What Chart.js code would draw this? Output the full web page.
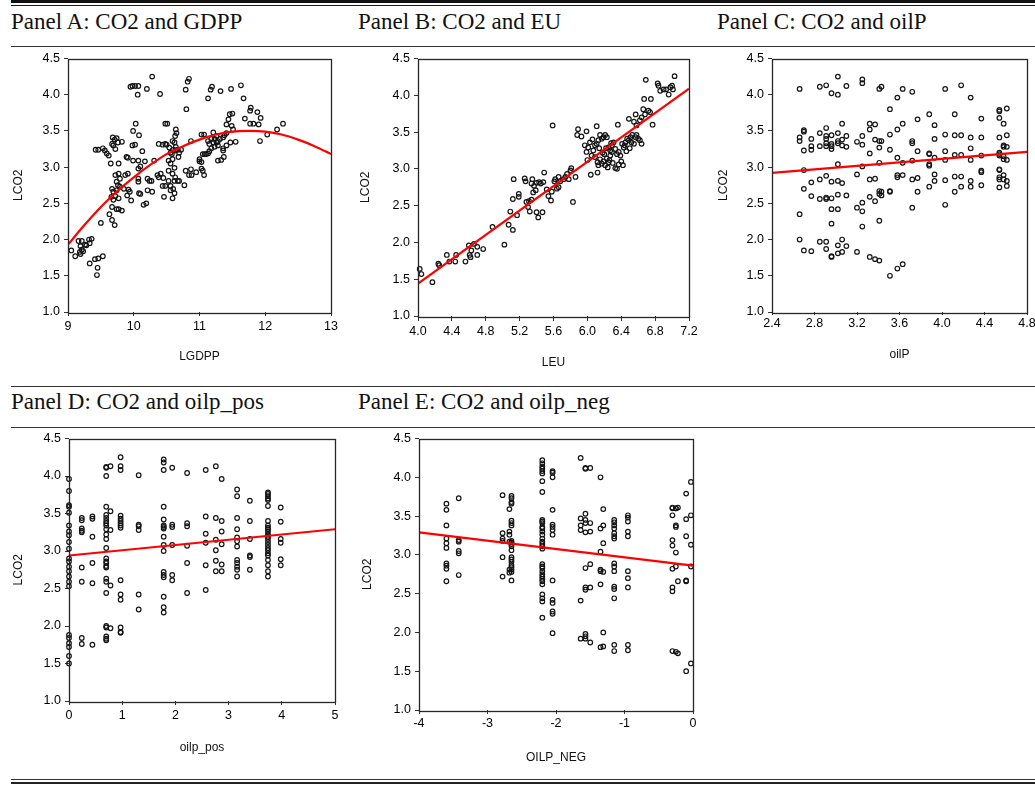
<!DOCTYPE html>
<html><head><meta charset="utf-8">
<script src="https://cdn.jsdelivr.net/npm/chart.js@4.4.1/dist/chart.umd.min.js"></script>
<style>
html,body{margin:0;padding:0;background:#fff;width:1035px;height:785px;overflow:hidden;position:relative}
.rule{position:absolute;left:11px;width:1024px;background:#1a1a1a}
.title{position:absolute;font-family:"Liberation Serif","Times New Roman",serif;font-size:23px;line-height:23px;color:#111;white-space:nowrap}
canvas{position:absolute}
</style></head><body>
<div class="rule" style="top:0;height:3px;background:#111"></div>
<div class="rule" style="top:5px;height:1px"></div>
<div class="rule" style="top:46px;height:1px;background:#333"></div>
<div class="rule" style="top:386px;height:1px;background:#333"></div>
<div class="rule" style="top:427px;height:1px;background:#333"></div>
<div class="rule" style="top:779px;height:1px;background:#333"></div>
<div class="rule" style="top:782px;height:2px;background:#222"></div>
<div class="title" style="left:11px;top:10px">Panel A: CO2 and GDPP</div>
<div class="title" style="left:358px;top:10px">Panel B: CO2 and EU</div>
<div class="title" style="left:717px;top:10px">Panel C: CO2 and oilP</div>
<div class="title" style="left:11px;top:390px">Panel D: CO2 and oilp_pos</div>
<div class="title" style="left:358px;top:390px">Panel E: CO2 and oilp_neg</div>
<canvas id="cA" width="345" height="330" style="left:0;top:47px"></canvas>
<canvas id="cB" width="355" height="335" style="left:350px;top:47px"></canvas>
<canvas id="cC" width="350" height="330" style="left:700px;top:47px"></canvas>
<canvas id="cD" width="350" height="345" style="left:0;top:427px"></canvas>
<canvas id="cE" width="360" height="350" style="left:350px;top:427px"></canvas>
<script>
// ---------- DATA ----------
const yTicks = [1.0,1.5,2.0,2.5,3.0,3.5,4.0,4.5];
const ticksA = [9,10,11,12,13];
const ticksB = [4.0,4.4,4.8,5.2,5.6,6.0,6.4,6.8,7.2];
const ticksC = [2.4,2.8,3.2,3.6,4.0,4.4,4.8];
const ticksD = [0,1,2,3,4,5];
const ticksE = [-4,-3,-2,-1,0];

// Panel A: LGDPP vs LCO2 points [x, y]
const pointsA = [
[10.28,4.25],[9.95,4.11],[9.98,4.12],[10.02,4.12],[10.07,4.12],[10.06,4.0],[10.2,4.08],[10.4,4.01],[10.79,4.07],[10.82,4.18],[10.84,4.22],[10.8,3.8],[11.13,3.95],[11.17,4.07],[11.19,4.11],[11.32,4.05],[11.48,4.08],[11.63,4.13],[11.67,3.95],[11.69,3.67],[11.77,3.78],[11.78,3.82],[11.88,3.76],[11.93,3.68],[11.77,3.6],[11.82,3.6],[11.9,3.59],[11.92,3.36],[12.03,3.45],[12.18,3.52],[12.27,3.6],
[9.42,3.24],[9.46,3.24],[9.53,3.26],[9.56,3.23],[9.59,3.19],[9.62,3.16],[9.65,3.05],[9.68,3.41],[9.71,3.38],[9.74,3.4],[9.76,3.34],[9.69,3.3],[9.72,3.25],[9.67,3.32],[9.77,3.05],[9.82,3.35],[9.89,3.14],[9.91,3.13],[9.99,3.5],[10.03,3.6],[9.98,3.3],[10.02,3.31],[10.08,3.44],[9.99,3.09],[10.07,3.09],[10.13,3.22],[10.17,3.08],
[9.72,2.89],[9.77,2.91],[9.79,2.84],[9.74,2.8],[9.76,2.75],[9.67,2.7],[9.69,2.66],[9.74,2.68],[9.79,2.73],[9.85,2.7],[9.92,2.69],[9.94,2.66],[9.9,2.61],[9.66,2.59],[9.72,2.6],[9.77,2.57],[9.69,2.55],[9.87,2.89],[9.91,2.91],[9.96,2.54],[9.67,2.45],[9.74,2.42],[9.77,2.42],[9.82,2.4],[9.63,2.35],[9.67,2.27],[9.71,2.2],[9.5,2.23],
[10.07,2.84],[10.07,2.8],[10.08,2.64],[10.1,2.63],[10.07,2.98],[10.1,3.01],[10.15,2.48],[10.19,2.5],[10.21,2.84],[10.24,2.81],[10.27,2.81],[10.21,2.68],[10.28,2.66],[10.31,3.09],[10.36,2.89],[10.38,2.86],[10.41,2.91],[10.45,2.85],[10.44,2.74],[10.38,3.32],[10.44,3.31],[10.48,3.32],[10.5,3.31],[10.48,3.6],[10.51,3.6],[10.48,2.74],[10.46,2.59],
[10.54,3.27],[10.56,3.2],[10.58,3.18],[10.6,3.24],[10.63,3.23],[10.64,3.28],[10.59,3.36],[10.62,3.34],[10.64,3.52],[10.65,3.47],[10.63,3.43],[10.53,3.09],[10.59,3.11],[10.56,3.05],[10.53,2.95],[10.62,2.99],[10.59,2.91],[10.63,2.86],[10.53,2.81],[10.62,2.81],[10.67,2.81],[10.69,2.81],[10.56,2.74],[10.6,2.7],[10.62,2.64],[10.59,2.57],[10.56,2.68],
[10.77,2.75],[10.79,2.95],[10.84,2.89],[10.88,2.89],[10.87,2.97],[10.67,3.24],[10.69,3.2],[10.72,3.24],[10.68,3.14],[10.87,3.36],[10.95,2.93],[11.03,2.98],[11.05,2.95],[11.07,2.89],[11.0,3.08],[11.03,3.45],[11.07,3.45],[11.05,3.18],[11.08,3.18],[11.1,3.18],[11.13,3.19],[11.15,3.22],[11.0,3.11],[11.03,3.07],
[11.13,3.36],[11.18,3.39],[11.23,3.39],[11.21,3.48],[11.26,3.43],[11.15,3.32],[11.21,3.34],[11.26,3.34],[11.28,3.36],[11.31,3.39],[11.36,3.41],[11.38,3.44],[11.41,3.47],[11.18,3.26],[11.23,3.28],[11.28,3.3],[11.28,3.09],[11.33,3.1],[11.36,3.23],[11.37,3.14],[11.41,3.59],[11.44,3.66],[11.46,3.73],[11.5,3.74],[11.49,3.57],[11.51,3.52],[11.55,3.35],[11.47,3.34],[11.41,3.3],[11.36,3.26],
[9.05,1.85],[9.11,1.77],[9.16,1.98],[9.21,1.98],[9.19,1.91],[9.21,1.86],[9.18,1.83],[9.23,1.84],[9.19,1.8],[9.26,1.93],[9.32,2.0],[9.36,2.01],[9.33,1.95],[9.28,1.92],[9.41,1.73],[9.46,1.74],[9.53,1.77],[9.33,1.67],[9.45,1.61],[9.44,1.51]
];
const fitA = [[9,1.93],[9.25,2.20],[9.5,2.45],[9.75,2.67],[10,2.86],[10.25,3.03],[10.5,3.18],[10.75,3.29],[11,3.38],[11.25,3.45],[11.5,3.49],[11.75,3.50],[12,3.49],[12.25,3.45],[12.5,3.38],[12.75,3.29],[13,3.18]];

// Panel B: LEU vs LCO2 points [x, y]
const pointsB = [
[4.02,1.64],[4.04,1.57],[4.17,1.46],[4.24,1.71],[4.25,1.69],[4.34,1.83],[4.37,1.74],[4.44,1.74],[4.45,1.83],[4.56,1.74],[4.6,1.96],[4.62,1.8],[4.61,1.83],[4.63,1.89],[4.66,1.98],[4.7,1.94],[4.7,1.83],[4.77,1.91],[4.88,2.21],[5.02,1.97],[5.07,2.24],[5.09,2.42],[5.12,2.17],[5.12,2.59],[5.17,2.37],[5.13,2.86],[5.19,2.66],[5.19,2.62],
[5.26,2.87],[5.27,2.83],[5.28,2.55],[5.31,2.56],[5.3,2.48],[5.32,2.42],[5.34,2.58],[5.35,2.86],[5.34,2.8],[5.36,2.68],[5.37,2.77],[5.39,2.71],[5.4,2.81],[5.43,2.82],[5.45,2.8],[5.4,2.41],[5.42,2.34],[5.47,2.41],[5.49,2.95],[5.48,2.82],[5.52,2.72],[5.54,2.63],[5.57,2.57],[5.58,2.69],[5.61,2.83],[5.64,2.73],[5.66,2.75],[5.59,3.59],
[5.62,2.86],[5.66,2.89],[5.68,2.83],[5.72,2.86],[5.74,2.89],[5.76,2.93],[5.78,2.86],[5.8,2.98],[5.81,3.01],[5.83,2.55],[5.86,2.89],[5.88,3.46],[5.89,3.54],[5.93,3.44],[5.99,3.51],[6.04,2.92],[6.11,3.58],
[5.97,3.32],[5.99,3.23],[6.01,3.29],[6.03,3.36],[6.05,3.18],[6.07,3.25],[6.09,3.32],[6.11,3.34],[6.13,3.39],[6.15,3.46],[6.17,3.41],[6.19,3.43],[6.21,3.46],[6.23,3.43],[6.09,3.16],[6.12,3.09],[6.13,3.05],[6.15,3.13],[6.17,3.07],[6.19,3.1],[6.21,3.05],[6.23,3.14],[6.25,3.09],[6.27,3.18],[6.29,3.23],[6.12,2.95],
[6.25,3.29],[6.27,3.25],[6.29,3.32],[6.31,3.36],[6.33,3.27],[6.35,3.2],[6.37,3.23],[6.39,3.18],[6.41,3.34],[6.43,3.29],[6.45,3.36],[6.47,3.41],[6.49,3.39],[6.51,3.43],[6.53,3.46],[6.55,3.34],[6.57,3.43],[6.58,3.46],[6.6,3.41],[6.62,3.39],[6.64,3.34],[6.33,3.01],[6.35,3.0],[6.37,3.06],[6.36,3.6],
[6.2,3.2],[6.22,3.28],[6.18,3.22],[6.26,3.12],[6.3,3.08],[6.24,3.02],[6.28,3.35],[6.14,3.28],[6.06,3.4],[6.0,3.12],[6.44,3.32],[6.46,3.24],[6.5,3.28],[6.52,3.36],[6.4,3.1],[6.42,3.05],
[6.49,3.68],[6.55,3.64],[6.57,3.74],[6.58,3.59],[6.62,3.66],[6.64,3.7],[6.66,3.81],[6.68,3.74],[6.72,3.79],[6.74,3.77],[6.77,3.6],[6.67,3.95],[6.75,3.95],[6.69,4.21],[6.83,4.16],[6.84,4.13],[6.86,4.06],[6.9,4.08],[6.93,4.08],[6.96,4.01],[6.98,4.11],[7.0,4.13],[7.01,4.08],[7.03,4.26]
];
const fitB = [[4.0,1.44],[7.2,4.09]];

// Panel C: oilP columns [x, [y values]]
const columnsC = [
[2.66,[4.08,3.41,3.36,2.35,2.0]],
[2.70,[3.51,3.49,3.23,2.96,2.7,1.85]],
[2.77,[3.39,3.29,3.24,2.79,2.6,1.84]],
[2.85,[4.11,3.47,3.29,2.83,2.56,1.97]],
[2.91,[4.13,3.54,3.43,3.39,3.33,3.29,2.88,2.58,2.56,1.97,1.87]],
[2.96,[4.02,3.44,3.32,3.29,3.25,2.8,2.57,2.42,2.22,1.77,1.76]],
[3.02,[4.25,4.0,3.47,3.36,3.33,3.04,2.81,2.62,2.42,1.92,1.81]],
[3.06,[3.6,3.38,3.3,2.78,2.0,1.83]],
[3.10,[4.12,3.43,3.28,2.61,1.91]],
[3.20,[3.35,2.9,2.44,1.83]],
[3.25,[4.21,4.16,3.43,3.31,3.01,2.51,2.39,2.18]],
[3.32,[3.6,3.52,3.19,2.83,2.59,1.76]],
[3.37,[3.59,3.38,2.84,2.53,1.73]],
[3.41,[4.08,3.36,3.27,3.06,2.67,2.63,2.26,1.71]],
[3.43,[4.11,3.36,2.66,2.61]],
[3.51,[3.8,3.45,3.24,2.67,2.66,1.5]],
[3.58,[3.96,3.52,3.13,2.89,2.86,1.6]],
[3.63,[4.08,3.6,3.06,2.89,1.66]],
[3.72,[4.04,3.36,3.33,3.09,2.83,2.44]],
[3.77,[3.66,3.22,2.85,2.66]],
[3.88,[3.73,3.19,3.18,3.04,3.02,2.73]],
[3.93,[3.58,3.39,3.13,2.9,2.81]],
[4.03,[4.08,3.45,3.22,3.1,2.82,2.48]],
[4.12,[3.73,3.44,3.17,2.87,2.66]],
[4.18,[4.13,3.44,3.17,2.87,2.73]],
[4.27,[3.96,3.41,3.26,3.1,2.81,2.73]],
[4.37,[3.67,3.41,3.16,2.95,2.93,2.75]],
[4.54,[3.79,3.77,3.68,3.41,3.2,3.18,3.16,2.97,2.96,2.86,2.83,2.72]],
[4.58,[3.6,3.3,3.28,3.15,3.11,2.89,2.83]],
[4.61,[3.81,3.44,3.28,3.1,2.81,2.74]]
];
const fitC = [[2.4,2.92],[4.8,3.21]];

// Panel D: oilp_pos columns [x, [y values]]
const columnsD = [
[0,[3.96,3.8,3.61,3.59,3.51,3.34,3.26,3.21,3.12,3.03,2.9,2.86,2.79,2.73,2.66,2.59,2.53,1.88,1.84,1.77,1.72,1.6,1.5]],
[0.24,[3.44,3.41,3.3,3.27,3.25,2.78,2.59,1.84,1.76]],
[0.44,[3.46,3.43,3.19,2.84,2.57,1.75]],
[0.70,[4.12,4.11,4.0,3.59,3.48,3.44,3.4,3.37,3.34,3.29,3.22,3.16,3.04,2.9,2.86,2.84,2.8,2.78,2.63,2.59,2.44,2.0,1.98,1.86,1.83,1.81]],
[0.78,[4.13,3.53,3.28,2.54,1.97]],
[0.97,[4.25,4.13,4.08,3.47,3.43,3.4,3.37,3.34,3.31,2.61,2.42,2.35,1.98,1.92,1.91]],
[1.31,[4.01,3.35,3.33,3.28,2.42,2.22]],
[1.78,[4.22,4.18,4.08,3.59,3.42,3.34,3.32,3.3,3.19,3.08,3.0,2.72,2.68,2.65,2.39,2.25,2.18]],
[1.94,[4.11,3.35,3.32,3.08,2.68,2.61]],
[2.22,[4.04,3.37,3.33,3.07,2.84,2.44]],
[2.57,[4.08,3.46,3.23,3.11,2.81,2.48]],
[2.76,[4.13,3.44,3.15,3.01,2.87,2.73]],
[2.87,[3.96,3.4,3.26,3.09,2.82,2.73]],
[3.16,[3.82,3.73,3.44,3.29,3.18,3.13,3.06,2.88,2.84,2.79,2.75,2.66]],
[3.40,[3.67,3.4,3.16,2.94,2.92,2.75]],
[3.74,[3.78,3.76,3.73,3.7,3.68,3.6,3.4,3.34,3.31,3.29,3.26,3.22,3.19,3.16,3.12,3.08,3.04,3.01,2.97,2.94,2.88,2.81,2.73,2.66]],
[3.98,[3.58,3.39,3.16,3.11,2.89,2.81]]
];
const fitD = [[0,2.94],[5,3.29]];

// Panel E: OILP_NEG columns [x, [y values]]
const columnsE = [
[-3.6,[3.66,3.58,3.38,3.21,3.15,3.09,2.89,2.86,2.82,2.66]],
[-3.42,[3.73,3.19,3.17,3.05,3.02,2.74]],
[-2.78,[3.77,3.28,3.21,3.18,2.97,2.72]],
[-2.68,[3.59,3.3,3.26,3.17,2.81,2.77]],
[-2.65,[3.76,3.73,3.68,3.66,3.44,3.41,3.38,3.18,3.16,3.14,3.11,3.06,2.97,2.94,2.91,2.87,2.84,2.81,2.78,2.67]],
[-2.2,[4.22,4.18,4.14,4.11,4.08,4.05,3.95,3.81,3.45,3.43,3.41,3.36,3.34,3.3,3.26,3.21,3.17,3.14,3.11,3.08,2.88,2.85,2.83,2.79,2.75,2.72,2.69,2.66,2.62,2.49,2.44,2.4,2.19]],
[-2.05,[4.08,4.06,4.0,3.58,3.39,3.36,3.32,3.26,2.67,2.42,2.38,2.27,2.24,1.99]],
[-1.64,[4.25,3.47,3.38,3.32,2.41,1.92]],
[-1.57,[4.12,4.11,3.53,3.45,3.41,3.29,2.83,2.58,2.55,1.98,1.95,1.92]],
[-1.5,[4.12,3.41,3.3,2.88,2.58,1.87]],
[-1.35,[4.0,3.34,3.04,2.81,2.79,2.62,1.81]],
[-1.31,[3.59,3.38,3.15,2.78,2.0,1.82]],
[-1.15,[3.45,3.42,3.38,3.34,3.28,3.24,3.21,2.89,2.85,2.79,2.59,2.56,2.44,1.84,1.76]],
[-0.95,[3.51,3.48,3.43,3.3,3.24,2.79,2.7,2.58,1.84,1.77]],
[-0.3,[3.61,3.6,3.51,3.19,3.12,2.82,2.58,2.53,1.76]],
[-0.25,[3.6,3.6,3.38,3.36,3.03,2.85,1.75]],
[-0.22,[3.61,2.66,1.73]],
[-0.1,[3.79,3.46,3.24,2.67,2.66,1.5]],
[-0.03,[3.94,3.51,3.13,2.85,1.6]]
];
const fitE = [[-4,3.29],[0,2.86]];

// ---------- RENDER ----------
const FONT = '"Liberation Sans", Arial, sans-serif';
const fromPairs = arr => arr.map(p => ({x: p[0], y: p[1]}));
const fromColumns = cols => cols.flatMap(c => c[1].map(v => ({x: c[0], y: v})));

const boxPlugin = {
  id: 'box',
  afterDatasetsDraw(chart) {
    const a = chart.chartArea, ctx = chart.ctx;
    ctx.save();
    ctx.strokeStyle = '#262626';
    ctx.lineWidth = 1.3;
    ctx.strokeRect(Math.round(a.left) + 0.5, Math.round(a.top) + 0.5, Math.round(a.right - a.left), Math.round(a.bottom - a.top));
    ctx.restore();
  }
};

function panel(id, o) {
  new Chart(document.getElementById(id), {
    type: 'scatter',
    data: {
      datasets: [
        { data: o.fit, showLine: true, borderColor: '#ff0000', borderWidth: 2.2, pointRadius: 0,
          tension: o.tension || 0, fill: false, order: 0 },
        { data: o.points, pointRadius: 2.3, pointBorderWidth: 1.2, borderColor: '#151515',
          pointBorderColor: '#151515', backgroundColor: 'rgba(255,255,255,0)', clip: 5, order: 1 }
      ]
    },
    options: {
      responsive: false, animation: false, events: [],
      layout: { padding: o.pad },
      plugins: { legend: { display: false }, tooltip: { enabled: false } },
      scales: {
        x: {
          type: 'linear', min: o.xTicks[0], max: o.xTicks[o.xTicks.length - 1],
          afterBuildTicks: s => { s.ticks = o.xTicks.map(v => ({ value: v })); },
          afterFit: s => { s.height = o.xH; },
          ticks: { autoSkip: false, maxRotation: 0, color: '#000', padding: o.xTickPad,
                   font: { family: FONT, size: 12.5 }, callback: o.xFmt },
          grid: { display: true, drawOnChartArea: false, drawTicks: true, tickLength: o.xTickLen, color: '#333' },
          border: { display: false },
          title: { display: true, text: o.xTitle, color: '#111', font: { family: FONT, size: 12 },
                   padding: { top: 0, bottom: o.xTitlePad } }
        },
        y: {
          type: 'linear', min: 1.0, max: 4.5,
          afterBuildTicks: s => { s.ticks = yTicks.map(v => ({ value: v })); },
          afterFit: s => { s.width = o.yW; },
          ticks: { autoSkip: false, color: '#000', padding: 4,
                   font: { family: FONT, size: 12.5 }, callback: v => Number(v).toFixed(1) },
          grid: { display: true, drawOnChartArea: false, drawTicks: true, tickLength: 4, color: '#333' },
          border: { display: false },
          title: { display: true, text: 'LCO2', color: '#111', font: { family: FONT, size: 12 },
                   padding: { top: o.yTitlePad, bottom: 0 } }
        }
      }
    },
    plugins: [boxPlugin]
  });
}

const intFmt = v => String(v);
const decFmt = v => Number(v).toFixed(1);

panel('cA', { points: fromPairs(pointsA), fit: fromPairs(fitA), tension: 0.3, xTicks: ticksA, xFmt: intFmt,
  xTitle: 'LGDPP', pad: { left: 0, top: 10, right: 14, bottom: 0 }, yW: 68, xH: 65,
  xTitlePad: 13, yTitlePad: 11, xTickLen: 4, xTickPad: 3 });
panel('cB', { points: fromPairs(pointsB), fit: fromPairs(fitB), xTicks: ticksB, xFmt: decFmt,
  xTitle: 'LEU', pad: { left: 0, top: 11, right: 16, bottom: 0 }, yW: 68, xH: 66,
  xTitlePad: 12, yTitlePad: 8, xTickLen: 5, xTickPad: 3 });
panel('cC', { points: fromColumns(columnsC), fit: fromPairs(fitC), xTicks: ticksC, xFmt: decFmt,
  xTitle: 'oilP', pad: { left: 0, top: 10, right: 23, bottom: 0 }, yW: 72, xH: 65,
  xTitlePad: 15, yTitlePad: 16, xTickLen: 3, xTickPad: 1 });
panel('cD', { points: fromColumns(columnsD), fit: fromPairs(fitD), xTicks: ticksD, xFmt: intFmt,
  xTitle: 'oilp_pos', pad: { left: 0, top: 10, right: 15, bottom: 0 }, yW: 69, xH: 71,
  xTitlePad: 17, yTitlePad: 11, xTickLen: 4, xTickPad: 3 });
panel('cE', { points: fromColumns(columnsE), fit: fromPairs(fitE), xTicks: ticksE, xFmt: intFmt,
  xTitle: 'OILP_NEG', pad: { left: 0, top: 10, right: 17, bottom: 0 }, yW: 69, xH: 67,
  xTitlePad: 12, yTitlePad: 10, xTickLen: 4, xTickPad: 2 });
</script>
</body></html>
